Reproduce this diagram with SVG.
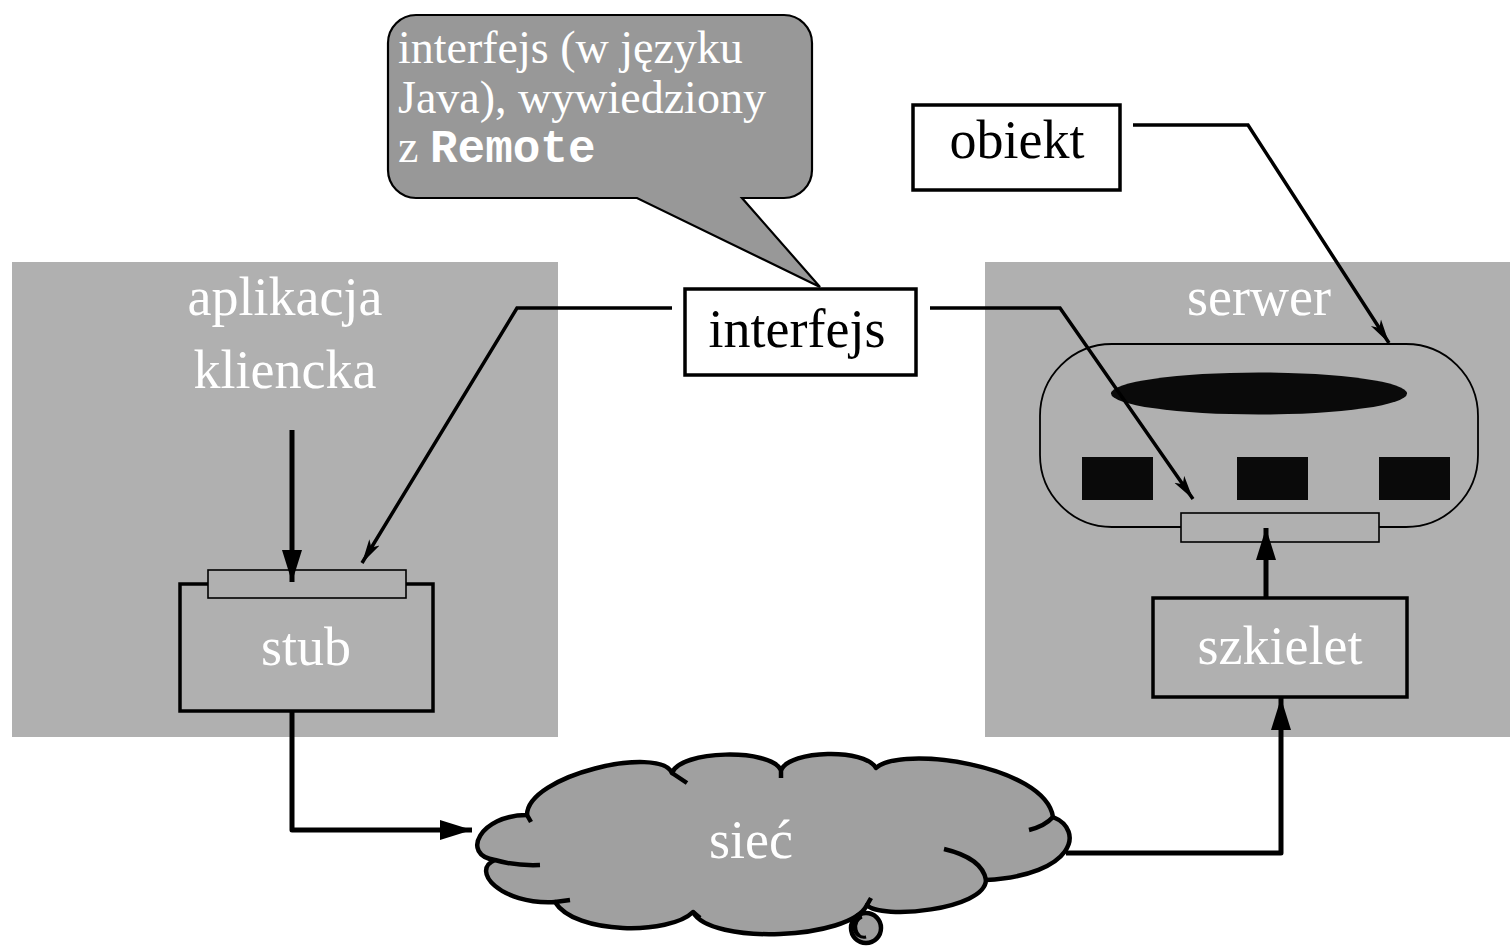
<svg xmlns="http://www.w3.org/2000/svg" width="1510" height="946" viewBox="0 0 1510 946">
<defs>
<style>
.panel{fill:#b0b0b0;stroke:none}
.lbl{font-family:"Liberation Serif","Times New Roman",serif;font-size:54px;text-anchor:middle}
.w{fill:#ffffff}
.k{fill:#000000}
.box{fill:none;stroke:#000;stroke-width:3.5}
.heavy{fill:none;stroke:#000;stroke-width:5;stroke-linejoin:round}
.thin{fill:none;stroke:#000;stroke-width:3.5;stroke-linejoin:miter}
.bar{fill:#b0b0b0;stroke:#000;stroke-width:1.6}
.blk{fill:#0a0a0a;stroke:none}
</style>
<marker id="hv" markerUnits="userSpaceOnUse" markerWidth="34" markerHeight="22" viewBox="0 -11 34 22" refX="32" refY="0" orient="auto">
<path d="M0,-10 L32,0 L0,10 Z" fill="#000"/>
</marker>
<marker id="tn" markerUnits="userSpaceOnUse" markerWidth="26" markerHeight="14" viewBox="0 -7 26 14" refX="24" refY="0" orient="auto">
<path d="M0,-6 L24,0 L0,6 L6,0 Z" fill="#000"/>
</marker>
</defs>
<rect width="1510" height="946" fill="#ffffff"/>

<g id="client">
<rect class="panel" x="12" y="262" width="546" height="475"/>
<text class="lbl w" x="285" y="315">aplikacja</text>
<text class="lbl w" x="285" y="388">kliencka</text>
</g>

<g id="server">
<rect class="panel" x="985" y="262" width="525" height="475"/>
<text class="lbl w" x="1259" y="315">serwer</text>
</g>

<g id="callout">
<path d="M416 15 H784 A28 28 0 0 1 812 43 V170 A28 28 0 0 1 784 198 H742 L820 287 L637 198 H416 A28 28 0 0 1 388 170 V43 A28 28 0 0 1 416 15 Z" fill="#989898" stroke="#000" stroke-width="2.2" stroke-linejoin="miter"/>
<text font-family="'Liberation Serif','Times New Roman',serif" font-size="46" fill="#fff">
<tspan x="398" y="63">interfejs (w języku</tspan>
<tspan x="398" y="113">Java), wywiedziony</tspan>
<tspan x="398" y="162">z <tspan font-family="'Liberation Mono','Courier New',monospace" font-weight="bold">Remote</tspan></tspan>
</text>
</g>

<g id="object-label">
<rect class="box" x="913" y="105" width="207" height="85" fill="#fff"/>
<text class="lbl k" x="1017" y="158">obiekt</text>
</g>

<g id="interface-label">
<rect class="box" x="685" y="289" width="231" height="86" fill="#fff"/>
<text class="lbl k" x="797" y="347">interfejs</text>
</g>

<g id="remote-object">
<rect x="1040" y="344" width="438" height="183" rx="72" ry="72" fill="none" stroke="#000" stroke-width="1.8"/>
<ellipse class="blk" cx="1259" cy="393.5" rx="148" ry="21"/>
<rect class="blk" x="1082" y="457" width="71" height="43"/>
<rect class="blk" x="1237" y="457" width="71" height="43"/>
<rect class="blk" x="1379" y="457" width="71" height="43"/>
<rect class="bar" x="1181" y="513" width="198" height="29"/>
</g>

<g id="stub">
<rect class="box" x="180" y="584" width="253" height="127"/>
<rect class="bar" x="208" y="570" width="198" height="28"/>
<text class="lbl w" x="306" y="665">stub</text>
</g>

<g id="skeleton">
<rect class="box" x="1153" y="598" width="254" height="99"/>
<text class="lbl w" x="1280" y="664">szkielet</text>
</g>

<g id="network">
<path d="M527 815 C527 775 660 745 672 773 C680 750 770 748 781 770 C790 750 865 748 876 768 C900 745 1045 765 1053 817 C1085 830 1075 875 986 880 C985 910 880 920 867 905 C850 940 710 945 693 912 C670 935 575 935 555 902 C500 905 470 870 495 860 C460 855 480 815 527 815 Z" fill="#a0a0a0" stroke="#000" stroke-width="4.5" stroke-linejoin="round"/>
<path d="M986 880 Q982 858 944 849 M1053 817 Q1045 826 1029 830 M495 860 Q515 866 540 865 M672 773 L687 783 M781 770 L781 778 M527 815 L531 822 M555 902 L570 900 M693 912 L700 918 M867 905 L871 898" fill="none" stroke="#000" stroke-width="4.5" stroke-linecap="butt"/>
<circle cx="866" cy="928" r="15" fill="#a0a0a0" stroke="#000" stroke-width="4.5"/>
<path d="M862 917 A10 10 0 0 0 866 937 A8 10 0 0 1 862 917 Z" fill="#000" stroke="#000" stroke-width="3"/>
<text class="lbl w" x="751" y="858">sieć</text>
</g>

<g id="connectors">
<path class="heavy" d="M292 430 V582" marker-end="url(#hv)"/>
<path class="heavy" d="M292 711 V830 H472" marker-end="url(#hv)"/>
<path class="heavy" d="M1066 853 H1281 V698" marker-end="url(#hv)"/>
<path class="heavy" d="M1266 598 V528" marker-end="url(#hv)"/>
<path class="thin" d="M672 308 H517 L362 563" marker-end="url(#tn)"/>
<path class="thin" d="M930 308 H1060 L1193 499" marker-end="url(#tn)"/>
<path class="thin" d="M1133 125 H1248 L1389 343" marker-end="url(#tn)"/>
</g>
</svg>
